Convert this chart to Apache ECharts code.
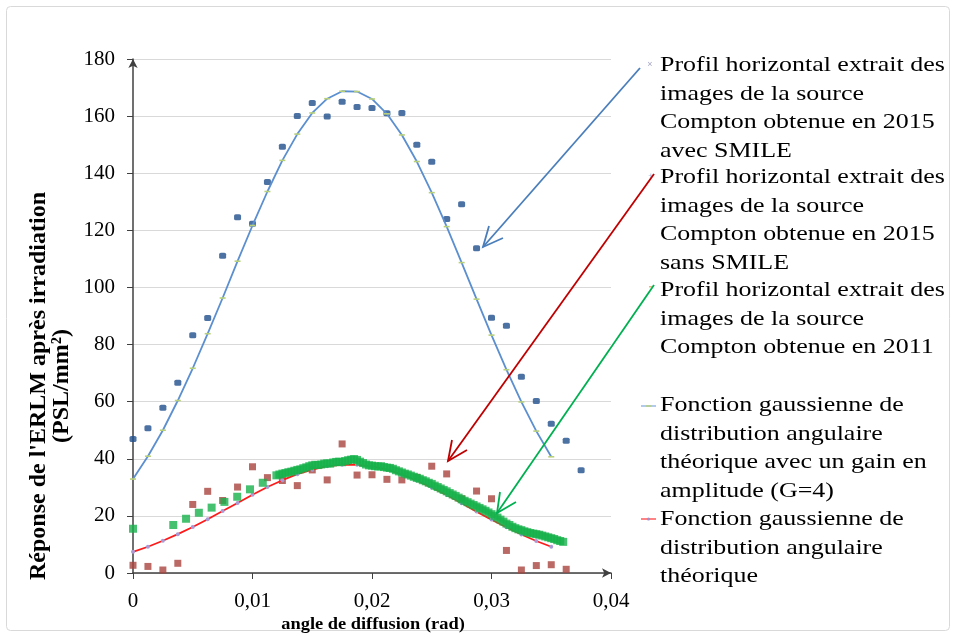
<!DOCTYPE html>
<html><head><meta charset="utf-8">
<script src="https://cdn.jsdelivr.net/npm/echarts@6/dist/echarts.min.js"></script>
<style>html,body{margin:0;padding:0;background:#fff}#c{width:956px;height:637px}</style>
</head><body><div id="c"></div>
<script>
// ---- data ----
const nameBlueData = "Profil horizontal extrait des images de la source Compton obtenue en 2015 avec SMILE";
const nameRedData = "Profil horizontal extrait des images de la source Compton obtenue en 2015 sans SMILE";
const nameGreenData = "Profil horizontal extrait des images de la source Compton obtenue en 2011";
const nameBlueFit = "Fonction gaussienne de distribution angulaire théorique avec un gain en amplitude (G=4)";
const nameRedFit = "Fonction gaussienne de distribution angulaire théorique";

const blueX = [0,0.00125,0.0025,0.00375,0.005,0.00625,0.0075,0.00875,0.01,0.01125,0.0125,0.01375,0.015,0.01625,0.0175,0.01875,0.02,0.02125,0.0225,0.02375,0.025,0.02625,0.0275,0.02875,0.03,0.03125,0.0325,0.03375,0.035,0.03625,0.0375];
const blueY = [46.9,50.7,57.9,66.6,83.3,89.3,111.1,124.6,122.3,136.9,149.3,160,164.6,159.9,165,163.2,162.8,161,161.1,150,144,124,129.1,113.7,89.4,86.6,68.7,60.2,52.3,46.3,36.0];

const redX = [0,0.00125,0.0025,0.00375,0.005,0.00625,0.0075,0.00875,0.01,0.01125,0.0125,0.01375,0.015,0.01625,0.0175,0.01875,0.02,0.02125,0.0225,0.02375,0.025,0.02625,0.0275,0.02875,0.03,0.03125,0.0325,0.03375,0.035,0.03625];
const redY = [2.7,2.3,1.05,3.4,24.0,28.6,25.4,30.1,37.2,33.4,32.4,30.6,36.1,32.6,45.2,34.3,34.4,32.8,32.6,33.5,37.4,34.7,26.0,28.7,26.0,7.9,1.05,2.6,2.9,1.3];

const greenX = [0,0.00337,0.00444,0.00551,0.00658,0.00765,0.00872,0.00979,0.01086,
  0.012,0.01225,0.0125,0.01275,0.013,0.01325,0.0135,0.01375,0.014,0.01425,0.0145,0.01475,0.015,0.01525,0.0155,0.01575,0.016,0.01625,0.0165,0.01675,0.017,0.01725,0.0175,0.01775,0.018,0.01825,0.0185,0.01875,0.019,0.01925,0.0195,0.01975,0.02,0.02025,0.0205,0.02075,0.021,0.02125,0.0215,0.02175,0.022,0.02225,0.0225,0.02275,0.023,0.02325,0.0235,0.02375,0.024,0.02425,0.0245,0.02475,0.025,0.02525,0.0255,0.02575,0.026,0.02625,0.0265,0.02675,0.027,0.02725,0.0275,0.02775,0.028,0.02825,0.0285,0.02875,0.029,0.02925,0.0295,0.02975,0.03,0.03025,0.0305,0.03075,0.031,0.03125,0.0315,0.03175,0.032,0.03225,0.0325,0.03275,0.033,0.03325,0.0335,0.03375,0.034,0.03425,0.0345,0.03475,0.035,0.03525,0.0355,0.03575,0.036];
const greenY = [15.5,16.8,19.0,21.1,22.9,24.9,26.7,29.3,31.6,
  34.2,34.5,34.8,35.0,35.3,35.5,35.8,36.1,36.3,36.7,37.0,37.4,37.7,37.9,37.8,38.0,38.3,38.4,38.3,38.7,38.9,39.0,38.8,39.2,39.5,39.7,39.9,39.6,39.0,38.5,38.0,37.7,37.6,37.4,37.3,37.4,37.1,36.9,36.8,36.5,36.0,35.6,35.2,34.8,34.5,34.1,33.7,33.3,33.0,32.5,32.1,31.6,31.2,30.6,30.1,29.6,29.1,28.6,28.0,27.5,27.0,26.4,25.8,25.3,24.8,24.3,23.8,23.3,22.8,22.3,21.8,21.2,20.6,20.0,19.4,18.7,18.0,17.3,16.8,16.2,15.7,15.3,15.0,14.6,14.3,14.0,13.8,13.6,13.4,13.1,12.8,12.5,12.2,11.9,11.5,11.2,10.9];

const fitX = [0,0.00125,0.0025,0.00375,0.005,0.00625,0.0075,0.00875,0.01,0.01125,0.0125,0.01375,0.015,0.01625,0.0175,0.01875,0.02,0.02125,0.0225,0.02375,0.025,0.02625,0.0275,0.02875,0.03,0.03125,0.0325,0.03375,0.035];
const blueFitY = [32.9,40.9,50.0,60.4,71.7,83.8,96.3,109.2,121.7,133.6,144.5,153.7,161.1,166.1,168.7,168.6,166.0,160.8,153.4,144.1,133.2,121.3,108.7,95.9,83.3,71.2,59.9,49.7,40.7];
const redFitY = [7.4,9.2,11.3,13.6,16.1,18.8,21.7,24.5,27.4,30.1,32.5,34.6,36.2,37.4,37.9,37.9,37.3,36.2,34.5,32.4,29.9,27.3,24.4,21.5,18.7,16.0,13.5,11.2,9.2];

const xTicks = [0, 0.01, 0.02, 0.03, 0.04];
const yTicks = [0,20,40,60,80,100,120,140,160,180];

const pairs = (xs, ys) => xs.map((x, i) => [x, ys[i]]);
const serif = '"Liberation Serif","Times New Roman",serif';

const legendEntries = [
  {lines:["Profil horizontal extrait des","images de la source","Compton obtenue en 2015","avec SMILE"], top:51},
  {lines:["Profil horizontal extrait des","images de la source","Compton obtenue en 2015","sans SMILE"], top:163},
  {lines:["Profil horizontal extrait des","images de la source","Compton obtenue en 2011"], top:276},
  {lines:["Fonction gaussienne de","distribution angulaire","théorique avec un gain en","amplitude (G=4)"], top:391},
  {lines:["Fonction gaussienne de","distribution angulaire","théorique"], top:505}
];

const chart = echarts.init(document.getElementById('c'), null, {renderer:'canvas'});

const graphics = [
  {type:'rect', shape:{x:6.5,y:6.5,width:943,height:624,r:4}, style:{fill:'none',stroke:'#d9d9d9',lineWidth:1}, z:-1},
  {type:'text', x:50, y:386, rotation:Math.PI/2,
    style:{text:"Réponse de l'ERLM après irradiation\n(PSL/mm²)", font:'bold 24px '+serif, fill:'#000', align:'center', verticalAlign:'middle', lineHeight:23}},
  {type:'text', x:373, y:625, scaleX:1.15,
    style:{text:"angle de diffusion (rad)", font:'bold 16px '+serif, fill:'#000', align:'center', verticalAlign:'middle'}},
  // arrows
  {type:'polyline', shape:{points:[[640,68],[483,247]]}, style:{stroke:'#4a7ebb',lineWidth:1.8}, z:20},
  {type:'polyline', shape:{points:[[489,226],[483,247],[503,238]]}, style:{stroke:'#4a7ebb',lineWidth:1.8,fill:null}, z:20},
  {type:'polyline', shape:{points:[[654,174],[448,461]]}, style:{stroke:'#c00000',lineWidth:1.8}, z:20},
  {type:'polyline', shape:{points:[[452,440],[448,461],[467,450]]}, style:{stroke:'#c00000',lineWidth:1.8,fill:null}, z:20},
  {type:'polyline', shape:{points:[[654,285],[497,513]]}, style:{stroke:'#00b050',lineWidth:1.8}, z:20},
  {type:'polyline', shape:{points:[[500,492],[497,513],[516,502]]}, style:{stroke:'#00b050',lineWidth:1.8,fill:null}, z:20},
  // legend icons
  {type:'text', x:650, y:65, style:{text:'×', font:'9px sans-serif', fill:'#a6a6c8', align:'center', verticalAlign:'middle'}},
  {type:'text', x:651, y:177, style:{text:'+', font:'9px sans-serif', fill:'#9db8e0', align:'center', verticalAlign:'middle'}},
  {type:'rect', shape:{x:649,y:286,width:3,height:1.5}, style:{fill:'#f2b27a'}},
  {type:'polyline', shape:{points:[[641,406],[656,406]]}, style:{stroke:'#7ea6dc',lineWidth:1.2}},
  {type:'rect', shape:{x:646,y:405.3,width:5,height:1.4}, style:{fill:'#b8d07a'}},
  {type:'polyline', shape:{points:[[641,519],[656,519]]}, style:{stroke:'#ff3030',lineWidth:1.2}},
  {type:'circle', shape:{cx:648.5,cy:519,r:1.6}, style:{fill:'#9e8fcf'}}
];
legendEntries.forEach(e => {
  graphics.push({type:'text', x:660, y:e.top, scaleX:1.18, style:{text:e.lines.join('\n'), font:'22px '+serif, fill:'#000', lineHeight:28.5, align:'left', verticalAlign:'top'}});
});

chart.setOption({
  animation:false,
  backgroundColor:'#fff',
  grid:{left:133, top:59, width:478, height:514, containLabel:false},
  xAxis:{type:'value', min:0, max:0.04, interval:0.01,
    axisLine:{show:true, onZero:false, lineStyle:{color:'#404040', width:1.5}, symbol:['none','arrow'], symbolSize:[7,9]},
    axisTick:{show:true, length:6, lineStyle:{color:'#404040'}},
    splitLine:{show:false},
    axisLabel:{fontFamily:serif, fontSize:21, color:'#000', margin:18,
      formatter: v => { const t = xTicks.find(k => Math.abs(k - v) < 1e-9); return t === 0 ? '0' : String(+v.toFixed(2)).replace('.', ','); }}
  },
  yAxis:{type:'value', min:0, max:180, interval:20,
    axisLine:{show:true, onZero:false, lineStyle:{color:'#404040', width:1.5}, symbol:['none','arrow'], symbolSize:[7,9]},
    axisTick:{show:true, length:6, lineStyle:{color:'#404040'}},
    splitLine:{show:true, lineStyle:{color:'#d9d9d9', width:1}},
    axisLabel:{fontFamily:serif, fontSize:21, color:'#000', margin:18,
      formatter: v => yTicks.includes(v) ? String(v) : ''}
  },
  legend:{show:false},
  graphic:graphics,
  series:[
    {name:nameBlueData, type:'scatter', data:pairs(blueX, blueY), symbol:'roundRect', symbolSize:[7,6], itemStyle:{color:'#1f4e8c'}, z:3},
    {name:nameRedData, type:'scatter', data:pairs(redX, redY), symbol:'rect', symbolSize:7, itemStyle:{color:'#a9443f'}, z:3},
    {name:nameBlueFit, type:'line', data:pairs(fitX, blueFitY), symbol:'rect', symbolSize:[6,1.6], showSymbol:true,
      lineStyle:{color:'#5b8fd0', width:1.8}, itemStyle:{color:'#b8d07a'}, z:4},
    {name:nameRedFit, type:'line', data:pairs(fitX, redFitY), symbol:'circle', symbolSize:4, showSymbol:true,
      lineStyle:{color:'#ff1a1a', width:1.8}, itemStyle:{color:'#a99ad6'}, z:4},
    {name:nameGreenData, type:'scatter', data:pairs(greenX, greenY), symbol:'rect', symbolSize:8, itemStyle:{color:'#17b14b'}, z:5}
  ]
});
</script></body></html>
